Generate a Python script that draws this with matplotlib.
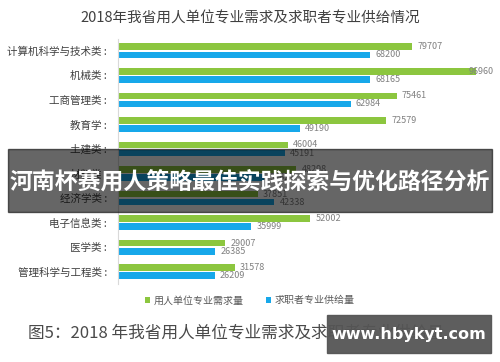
import matplotlib.pyplot as plt
from matplotlib.patches import Rectangle

plt.rcParams['font.family'] = ['Noto Sans CJK SC', 'DejaVu Sans']

categories = ['计算机科学与技术类', '机械类', '工商管理类', '教育学', '土建类',
              '材料类', '经济学类', '电子信息类', '医学类', '管理科学与工程类']
demand = [79707, 96960, 75461, 72579, 46004, 48298, 37851, 52002, 29007, 31578]
supply = [68200, 68165, 62984, 49190, 45191, 39627, 42338, 35999, 26385, 26209]

green = '#8cc63f'
blue = '#17a8ea'

fig = plt.figure(figsize=(5, 3.62), dpi=100)
ax = fig.add_axes([0.236, 0.2155, 0.75, 0.678])

y = list(range(len(categories)))
h = 0.27
off = 0.165
ax.barh([i - off for i in y], demand, height=h, color=green, label='用人单位专业需求量')
ax.barh([i + off for i in y], supply, height=h, color=blue, label='求职者专业供给量')

xmax = 101500
for i in y:
    ax.text(min(demand[i] + 1400, 95000), i - off, str(demand[i]), va='center',
            ha='left', fontsize=6.5, color='#808080')
    ax.text(min(supply[i] + 1400, 95000), i + off, str(supply[i]), va='center',
            ha='left', fontsize=6.5, color='#808080')

ax.set_xlim(0, xmax)
ax.set_ylim(len(categories) - 0.5, -0.5)
ax.set_yticks(y)
ax.set_yticklabels([c + ' :' for c in categories], fontsize=7.6, color='#404040')
ax.tick_params(axis='y', length=0, pad=8)
ax.set_xticks([])
for s in ['top', 'right', 'bottom']:
    ax.spines[s].set_visible(False)
ax.spines['left'].set_color('#d9d9d9')
ax.spines['left'].set_linewidth(0.8)

fig.text(0.5, 0.948, '2018年我省用人单位专业需求及求职者专业供给情况',
         ha='center', va='center', fontsize=10.5, color='#404040')

leg = fig.legend(loc='center', bbox_to_anchor=(0.5, 0.17), ncol=2, frameon=False,
                 fontsize=7.2, handlelength=0.5, handleheight=0.5, columnspacing=2.2,
                 handletextpad=0.4)
for t in leg.get_texts():
    t.set_color('#595959')

fig.text(0.056, 0.08, '图5：2018 年我省用人单位专业需求及求职者专业供给量',
         ha='left', va='center', fontsize=12, color='#4a4a4a', fontweight='light')

# overlay banner
fig.patches.append(Rectangle((8 / 500, 1 - 212 / 362), 484 / 500, 63 / 362,
                             transform=fig.transFigure, color='black', alpha=0.6,
                             zorder=10))
fig.text(0.5, 1 - 182 / 362, '河南杯赛用人策略最佳实践探索与优化路径分析',
         ha='center', va='center', fontsize=16.5, color='white',
         fontweight='bold', zorder=11)

# watermark
fig.patches.append(Rectangle((327 / 500, 1 - 353 / 362), 164 / 500, 38 / 362,
                             transform=fig.transFigure, color='#555555', alpha=0.95,
                             zorder=10))
fig.text(409 / 500, 1 - 334 / 362, 'www.hbykyt.com', ha='center', va='center',
         fontsize=11.5, color='white', fontweight='bold', zorder=11,
         family='DejaVu Sans')

fig.savefig('out.png', dpi=100)
